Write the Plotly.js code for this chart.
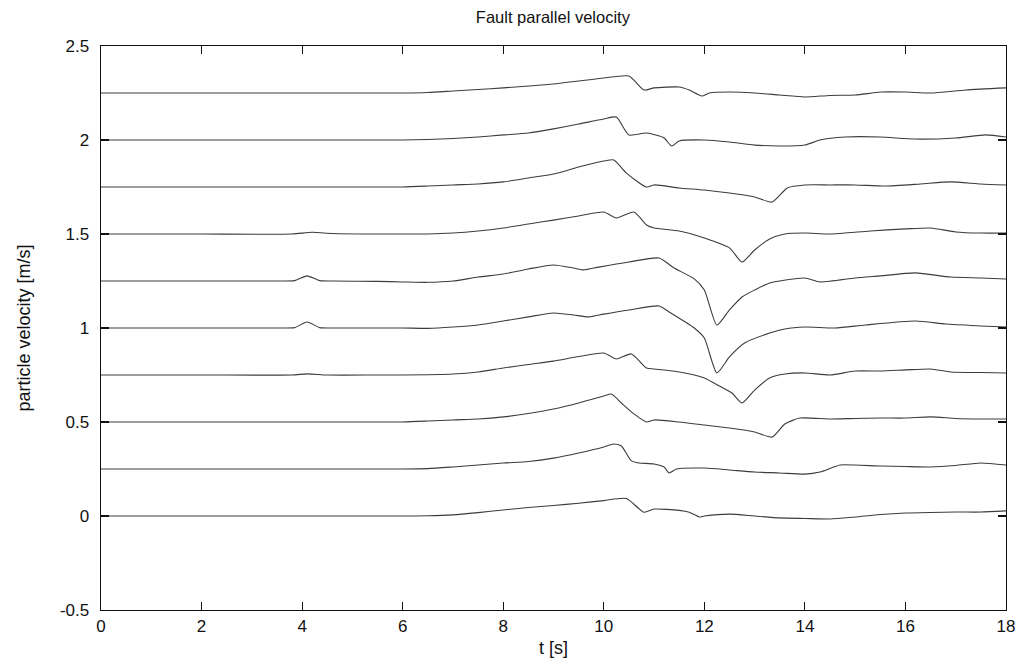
<!DOCTYPE html>
<html>
<head>
<meta charset="utf-8">
<script src="https://cdn.plot.ly/plotly-3.0.1.min.js"></script>
<style>html,body{margin:0;padding:0;background:#fff;}#chart{width:1021px;height:668px;}</style>
</head>
<body>
<div id="chart"></div>
<script>
// Fault parallel velocity, 10 stations (plotted with 0.25 m/s offsets)
const xTickVals = [0, 2, 4, 6, 8, 10, 12, 14, 16, 18];
const xTickText = ['0', '2', '4', '6', '8', '10', '12', '14', '16', '18'];
const yTickVals = [-0.5, 0, 0.5, 1, 1.5, 2, 2.5];
const yTickText = ['-0.5', '0', '0.5', '1', '1.5', '2', '2.5'];

const t0 = [0, 5, 6, 6.5, 7, 7.5, 8, 8.5, 9, 9.5, 10, 10.45, 10.8, 11, 11.5, 11.7, 11.9, 12, 12.5, 13, 13.5, 14, 14.5, 15, 15.5, 16, 16.5, 17, 17.5, 18];
const v0 = [0, 0, 0, 0.001, 0.006, 0.018, 0.032, 0.045, 0.056, 0.068, 0.082, 0.093, 0.02, 0.037, 0.03, 0.02, -0.005, 0.0, 0.01, 0.0, -0.01, -0.013, -0.016, -0.005, 0.008, 0.016, 0.019, 0.021, 0.021, 0.027];

const t1 = [0, 5, 6, 6.5, 7, 7.5, 8, 8.5, 9, 9.5, 10, 10.2, 10.35, 10.55, 10.7, 11, 11.2, 11.3, 11.45, 12, 12.5, 13, 13.5, 14, 14.3, 14.7, 15, 15.5, 16, 16.5, 17, 17.5, 18];
const v1 = [0.25, 0.25, 0.25, 0.252, 0.261, 0.271, 0.282, 0.29, 0.308, 0.335, 0.367, 0.383, 0.372, 0.293, 0.282, 0.277, 0.261, 0.229, 0.25, 0.255, 0.245, 0.234, 0.229, 0.223, 0.234, 0.271, 0.271, 0.266, 0.263, 0.261, 0.269, 0.282, 0.271];

const t2 = [0, 5, 6, 6.5, 7, 7.5, 8, 8.5, 9, 9.5, 10, 10.15, 10.35, 10.6, 10.85, 11, 11.5, 12, 12.5, 13, 13.35, 13.6, 13.9, 14.5, 15, 15.5, 16, 16.5, 17, 17.5, 18];
const v2 = [0.5, 0.5, 0.5, 0.505, 0.511, 0.516, 0.527, 0.545, 0.569, 0.601, 0.638, 0.649, 0.601, 0.543, 0.5, 0.511, 0.5, 0.484, 0.468, 0.447, 0.42, 0.489, 0.521, 0.516, 0.519, 0.521, 0.521, 0.527, 0.519, 0.516, 0.516];

const t3 = [0, 2, 3.8, 4.1, 4.5, 5.5, 6, 7, 7.5, 8, 8.5, 9, 9.5, 10, 10.25, 10.55, 10.85, 11, 11.5, 12, 12.3, 12.55, 12.75, 13, 13.3, 13.6, 14, 14.5, 15, 15.5, 16, 16.5, 16.9, 17.5, 18];
const v3 = [0.75, 0.75, 0.75, 0.756, 0.75, 0.75, 0.75, 0.755, 0.766, 0.787, 0.806, 0.824, 0.848, 0.867, 0.835, 0.862, 0.787, 0.782, 0.766, 0.734, 0.691, 0.654, 0.601, 0.67, 0.734, 0.755, 0.761, 0.75, 0.771, 0.771, 0.777, 0.782, 0.766, 0.763, 0.761];

const t4 = [0, 2, 3.6, 3.85, 4.1, 4.35, 4.6, 5.5, 6, 6.5, 7, 7.5, 8, 8.5, 9, 9.4, 9.7, 10, 10.5, 11.1, 11.3, 11.8, 12.0, 12.25, 12.5, 12.8, 13.3, 13.6, 14, 14.6, 15.2, 16.2, 16.8, 17.5, 18];
const v4 = [1.0, 1.0, 1.0, 1.002, 1.032, 1.002, 1.0, 1.0, 1.0, 0.998, 1.005, 1.016, 1.037, 1.059, 1.08, 1.069, 1.059, 1.074, 1.096, 1.117, 1.085, 1.0, 0.947, 0.761, 0.846, 0.92, 0.973, 0.995, 1.005, 1.0, 1.016, 1.037, 1.021, 1.011, 1.005];

const t5 = [0, 2, 3.6, 3.85, 4.1, 4.35, 4.6, 5.5, 6, 6.5, 7, 7.5, 8, 8.5, 9, 9.4, 9.6, 9.9, 10.5, 11.1, 11.4, 11.8, 12.0, 12.25, 12.5, 12.75, 13, 13.3, 14, 14.3, 15, 15.5, 16.2, 16.9, 17.5, 18];
const v5 = [1.25, 1.25, 1.25, 1.252, 1.277, 1.252, 1.25, 1.248, 1.245, 1.243, 1.25, 1.271, 1.287, 1.314, 1.335, 1.319, 1.309, 1.324, 1.351, 1.372, 1.319, 1.261, 1.202, 1.016, 1.096, 1.165, 1.202, 1.239, 1.266, 1.245, 1.266, 1.277, 1.293, 1.271, 1.266, 1.261];

const t6 = [0, 2, 3.8, 4.2, 4.6, 5.5, 6, 6.5, 7, 7.5, 8, 8.5, 9, 9.5, 10, 10.25, 10.6, 10.85, 11, 11.5, 12, 12.5, 12.75, 13, 13.3, 13.6, 14, 14.5, 15.3, 16, 16.5, 17, 17.5, 18];
const v6 = [1.5, 1.5, 1.5, 1.509, 1.503, 1.5, 1.5, 1.5, 1.505, 1.516, 1.532, 1.553, 1.574, 1.596, 1.617, 1.585, 1.617, 1.548, 1.532, 1.516, 1.479, 1.426, 1.351, 1.415, 1.473, 1.5, 1.505, 1.5, 1.516, 1.527, 1.532, 1.511, 1.505, 1.505];

const t7 = [0, 5, 6, 6.5, 7, 7.5, 8, 8.5, 9, 9.5, 10, 10.2, 10.45, 10.85, 11, 11.5, 12, 12.5, 13, 13.35, 13.65, 14, 14.5, 15, 15.6, 16.3, 16.9, 17.5, 18];
const v7 = [1.75, 1.75, 1.75, 1.755, 1.761, 1.766, 1.777, 1.798, 1.819, 1.856, 1.888, 1.894, 1.824, 1.75, 1.761, 1.745, 1.734, 1.718, 1.697, 1.67, 1.745, 1.761, 1.761, 1.761, 1.755, 1.766, 1.777, 1.766, 1.761];

const t8 = [0, 5, 6, 6.5, 7, 7.5, 8, 8.5, 9, 9.5, 10, 10.25, 10.5, 10.85, 11.2, 11.35, 11.5, 12, 12.5, 13, 13.5, 14, 14.3, 14.8, 15.5, 16.2, 17, 17.6, 18];
const v8 = [2.0, 2.0, 2.0, 2.003, 2.008, 2.016, 2.027, 2.037, 2.059, 2.085, 2.112, 2.122, 2.027, 2.037, 2.011, 1.968, 1.995, 2.0, 1.989, 1.973, 1.968, 1.973, 2.0, 2.016, 2.016, 2.005, 2.011, 2.027, 2.016];

const t9 = [0, 5, 6, 6.5, 7, 7.5, 8, 8.5, 9, 9.5, 10, 10.5, 10.8, 11, 11.5, 11.7, 11.95, 12.1, 12.5, 13, 13.5, 14, 14.5, 15, 15.5, 16, 16.5, 17.2, 18];
const v9 = [2.25, 2.25, 2.25, 2.253, 2.261, 2.269, 2.277, 2.287, 2.298, 2.314, 2.33, 2.34, 2.266, 2.277, 2.282, 2.266, 2.234, 2.25, 2.255, 2.25, 2.239, 2.229, 2.237, 2.239, 2.255, 2.255, 2.25, 2.266, 2.277];

const series = [[t0, v0], [t1, v1], [t2, v2], [t3, v3], [t4, v4], [t5, v5], [t6, v6], [t7, v7], [t8, v8], [t9, v9]];

const data = series.map(function (s, i) {
  return {
    x: s[0], y: s[1], type: 'scatter', mode: 'lines',
    name: 'station ' + (i + 1),
    line: {color: '#3c3c3c', width: 1.1, shape: 'spline', smoothing: 0.6},
    hoverinfo: 'x+y'
  };
});

const axisFont = {family: 'Liberation Sans, Arial, sans-serif', size: 18, color: '#111'};
const layout = {
  width: 1021, height: 668,
  margin: {l: 101, r: 15, t: 46, b: 58, pad: 0},
  paper_bgcolor: '#ffffff', plot_bgcolor: '#ffffff',
  showlegend: false,
  font: {family: 'Liberation Sans, Arial, sans-serif', size: 17, color: '#111'},
  title: {
    text: 'Fault parallel velocity',
    font: {family: 'Liberation Sans, Arial, sans-serif', size: 16.5, color: '#111'},
    x: 0.5415, xref: 'container', xanchor: 'center',
    y: 0.9746, yref: 'container', yanchor: 'middle'
  },
  xaxis: {
    range: [0, 18], autorange: false,
    tickmode: 'array', tickvals: xTickVals, ticktext: xTickText,
    ticks: 'inside', ticklen: 8, tickwidth: 1.2, tickcolor: '#111',
    showline: true, linecolor: '#111', linewidth: 1.4, mirror: 'ticks',
    showgrid: false, zeroline: false,
    tickfont: {family: 'Liberation Sans, Arial, sans-serif', size: 17, color: '#111'},
    ticklabelstandoff: 0,
    title: {text: 't [s]', font: axisFont, standoff: 6}
  },
  yaxis: {
    range: [-0.5, 2.5], autorange: false,
    tickmode: 'array', tickvals: yTickVals, ticktext: yTickText,
    ticks: 'inside', ticklen: 8, tickwidth: 1.2, tickcolor: '#111',
    showline: true, linecolor: '#111', linewidth: 1.4, mirror: 'ticks',
    showgrid: false, zeroline: false,
    tickfont: {family: 'Liberation Sans, Arial, sans-serif', size: 17, color: '#111'},
    ticklabelstandoff: 7,
    title: {text: 'particle velocity [m/s]', font: axisFont, standoff: 24}
  }
};

Plotly.newPlot('chart', data, layout, {displayModeBar: false, staticPlot: true});
</script>
</body>
</html>
